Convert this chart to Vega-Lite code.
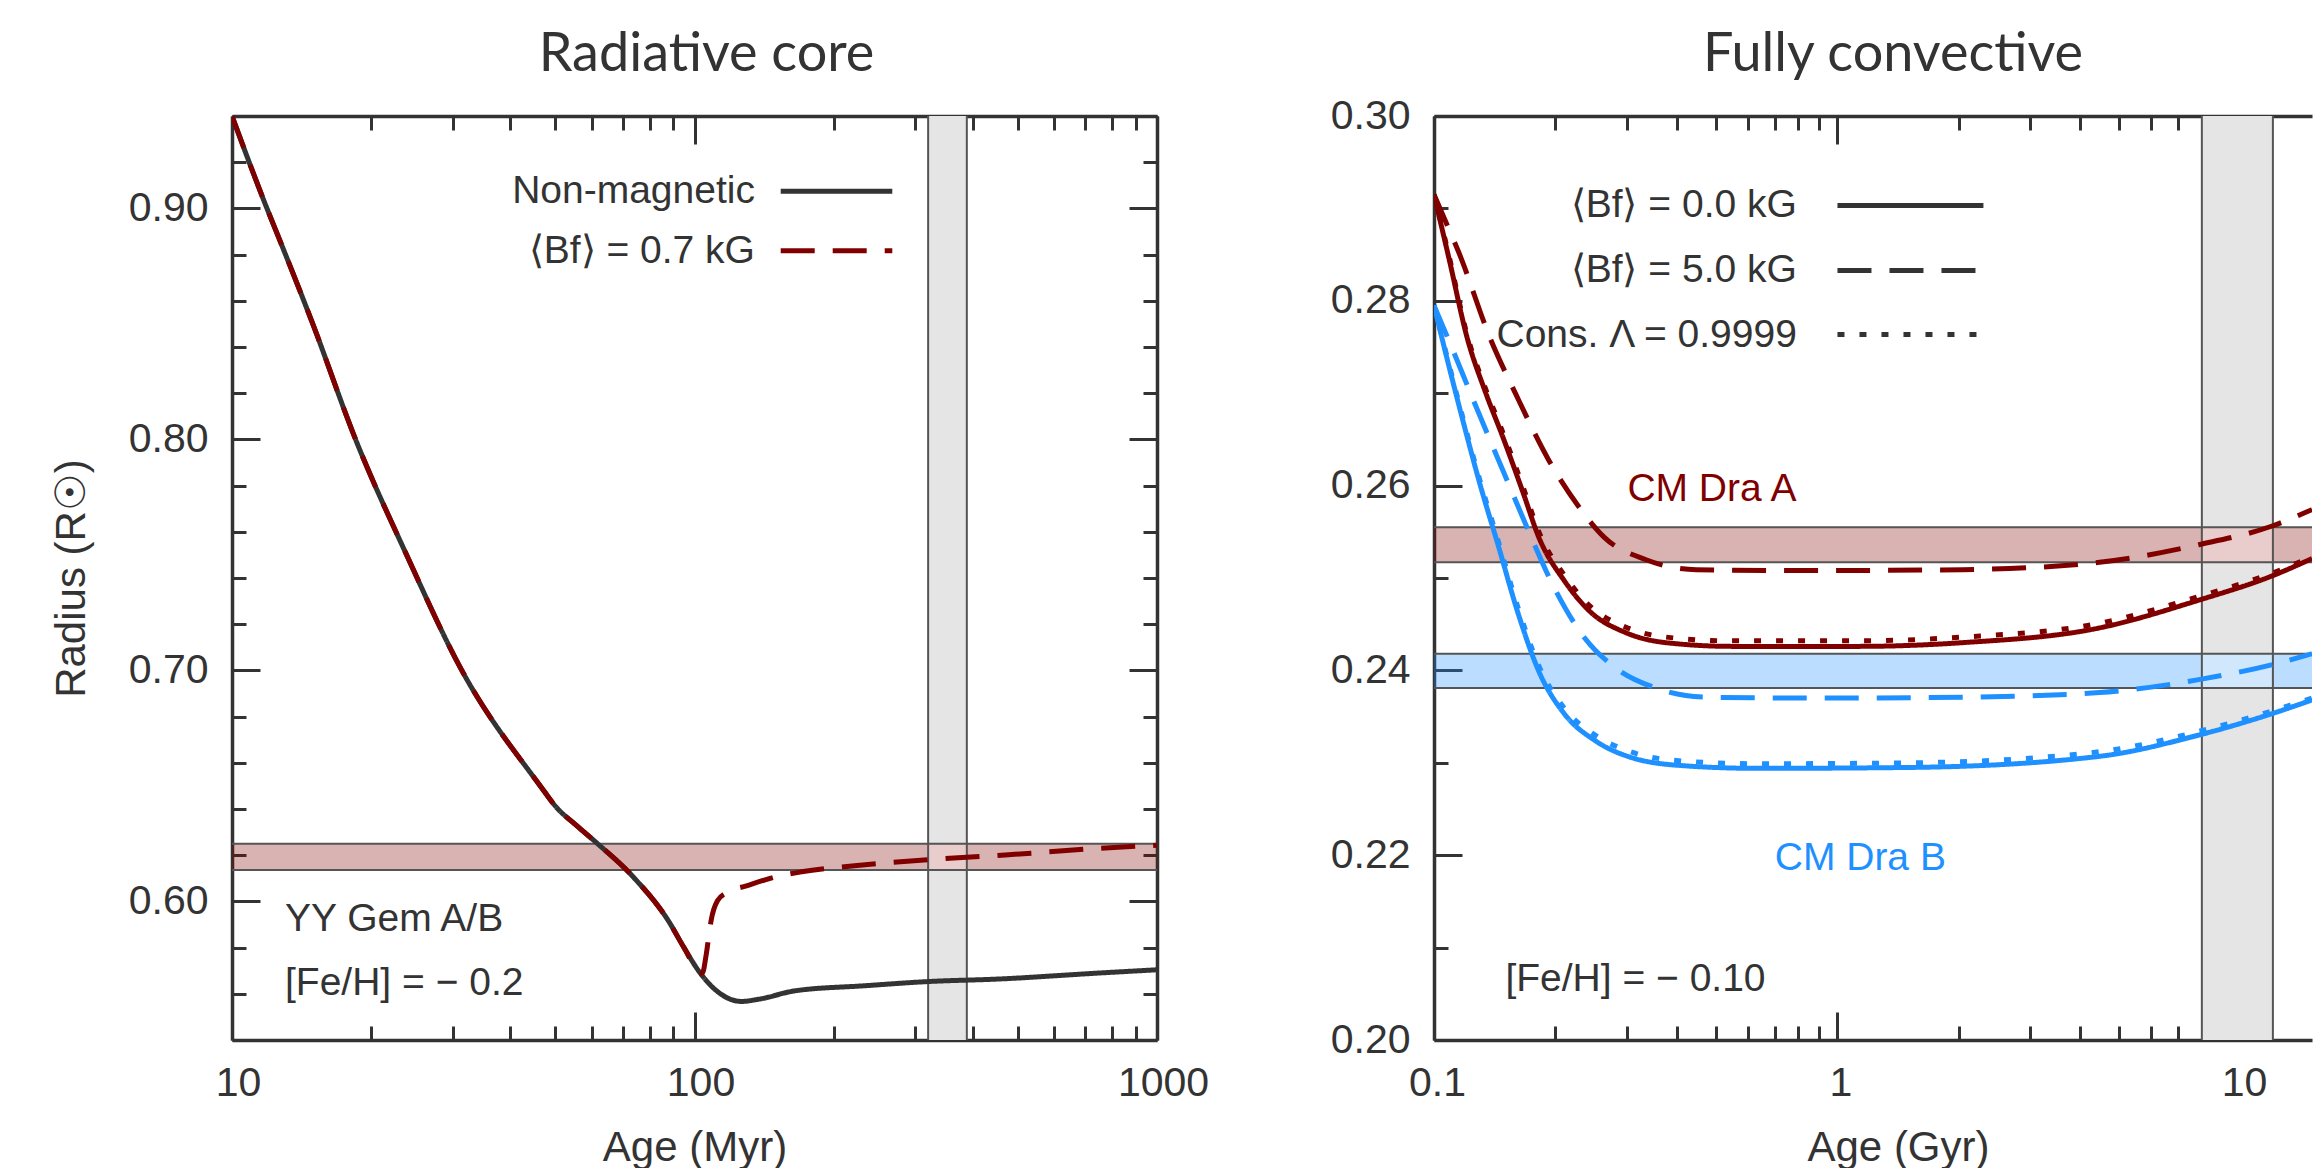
{
  "$schema": "https://vega.github.io/schema/vega-lite/v6.json",
  "padding": {"left": 50, "top": 28, "right": 0, "bottom": 0},
  "bounds": "flush",
  "spacing": 277,
  "config": {
    "view": {"stroke": null},
    "axis": {"grid": false, "domainColor": "#333333", "domainWidth": 3.5, "tickColor": "#333333", "tickWidth": 3, "labelFont": "Liberation Sans", "labelFontSize": 41, "labelColor": "#333333", "titleFont": "Liberation Sans", "titleFontSize": 42, "titleFontWeight": "normal", "titleColor": "#333333", "labelFlush": false, "labelOverlap": false},
    "text": {"font": "Liberation Sans", "fontSize": 39}
  },
  "datasets": {
    "leftCurves": [
      {"series": "nonmag", "style": "solid", "age": 10, "r": 0.940},
      {"series": "nonmag", "style": "solid", "age": 11.9, "r": 0.900},
      {"series": "nonmag", "style": "solid", "age": 12.64, "r": 0.887},
      {"series": "nonmag", "style": "solid", "age": 14.95, "r": 0.850},
      {"series": "nonmag", "style": "solid", "age": 18.5, "r": 0.800},
      {"series": "nonmag", "style": "solid", "age": 23.85, "r": 0.750},
      {"series": "nonmag", "style": "solid", "age": 31.4, "r": 0.700},
      {"series": "nonmag", "style": "solid", "age": 46.4, "r": 0.650},
      {"series": "nonmag", "style": "solid", "age": 50.2, "r": 0.6409},
      {"series": "nonmag", "style": "solid", "age": 55.7, "r": 0.6327},
      {"series": "nonmag", "style": "solid", "age": 61.3, "r": 0.6255},
      {"series": "nonmag", "style": "solid", "age": 73.7, "r": 0.6106},
      {"series": "nonmag", "style": "solid", "age": 87.8, "r": 0.5916},
      {"series": "nonmag", "style": "solid", "age": 94.9, "r": 0.5800},
      {"series": "nonmag", "style": "solid", "age": 102.7, "r": 0.5692},
      {"series": "nonmag", "style": "solid", "age": 114, "r": 0.5599},
      {"series": "nonmag", "style": "solid", "age": 126.3, "r": 0.5567},
      {"series": "nonmag", "style": "solid", "age": 138, "r": 0.5577},
      {"series": "nonmag", "style": "solid", "age": 165, "r": 0.5613},
      {"series": "nonmag", "style": "solid", "age": 234, "r": 0.5635},
      {"series": "nonmag", "style": "solid", "age": 320, "r": 0.5653},
      {"series": "nonmag", "style": "solid", "age": 455, "r": 0.5664},
      {"series": "nonmag", "style": "solid", "age": 750, "r": 0.5690},
      {"series": "nonmag", "style": "solid", "age": 1000, "r": 0.5704},
      {"series": "mag", "style": "dashed", "age": 10, "r": 0.940},
      {"series": "mag", "style": "dashed", "age": 11.9, "r": 0.900},
      {"series": "mag", "style": "dashed", "age": 12.64, "r": 0.887},
      {"series": "mag", "style": "dashed", "age": 14.95, "r": 0.850},
      {"series": "mag", "style": "dashed", "age": 18.5, "r": 0.800},
      {"series": "mag", "style": "dashed", "age": 23.85, "r": 0.750},
      {"series": "mag", "style": "dashed", "age": 31.4, "r": 0.700},
      {"series": "mag", "style": "dashed", "age": 46.4, "r": 0.650},
      {"series": "mag", "style": "dashed", "age": 50.2, "r": 0.6409},
      {"series": "mag", "style": "dashed", "age": 55.7, "r": 0.6327},
      {"series": "mag", "style": "dashed", "age": 61.3, "r": 0.6255},
      {"series": "mag", "style": "dashed", "age": 73.7, "r": 0.6106},
      {"series": "mag", "style": "dashed", "age": 87.8, "r": 0.5916},
      {"series": "mag", "style": "dashed", "age": 94.9, "r": 0.5800},
      {"series": "mag", "style": "dashed", "age": 102.7, "r": 0.5692},
      {"series": "mag", "style": "dashed", "age": 104.0, "r": 0.5690},
      {"series": "mag", "style": "dashed", "age": 106.0, "r": 0.5770},
      {"series": "mag", "style": "dashed", "age": 107.3, "r": 0.5844},
      {"series": "mag", "style": "dashed", "age": 108.6, "r": 0.5916},
      {"series": "mag", "style": "dashed", "age": 112.1, "r": 0.6003},
      {"series": "mag", "style": "dashed", "age": 117.3, "r": 0.6038},
      {"series": "mag", "style": "dashed", "age": 129.5, "r": 0.6067},
      {"series": "mag", "style": "dashed", "age": 153.2, "r": 0.6111},
      {"series": "mag", "style": "dashed", "age": 170.5, "r": 0.6128},
      {"series": "mag", "style": "dashed", "age": 221.7, "r": 0.6154},
      {"series": "mag", "style": "dashed", "age": 331.8, "r": 0.6183},
      {"series": "mag", "style": "dashed", "age": 470, "r": 0.6201},
      {"series": "mag", "style": "dashed", "age": 750, "r": 0.6230},
      {"series": "mag", "style": "dashed", "age": 1000, "r": 0.6243}
    ],
    "rightCurves": [
      {"star": "A", "style": "solid", "age": 0.1, "r": 0.2915},
      {"star": "A", "style": "solid", "age": 0.1089, "r": 0.2846},
      {"star": "A", "style": "solid", "age": 0.121, "r": 0.2759},
      {"star": "A", "style": "solid", "age": 0.1339, "r": 0.2702},
      {"star": "A", "style": "solid", "age": 0.1483, "r": 0.2652},
      {"star": "A", "style": "solid", "age": 0.1667, "r": 0.2591},
      {"star": "A", "style": "solid", "age": 0.1819, "r": 0.2544},
      {"star": "A", "style": "solid", "age": 0.2104, "r": 0.2497},
      {"star": "A", "style": "solid", "age": 0.2432, "r": 0.2464},
      {"star": "A", "style": "solid", "age": 0.2982, "r": 0.2441},
      {"star": "A", "style": "solid", "age": 0.3762, "r": 0.2430},
      {"star": "A", "style": "solid", "age": 0.5502, "r": 0.2426},
      {"star": "A", "style": "solid", "age": 1.13, "r": 0.2426},
      {"star": "A", "style": "solid", "age": 2.036, "r": 0.2430},
      {"star": "A", "style": "solid", "age": 4.46, "r": 0.2446},
      {"star": "A", "style": "solid", "age": 7.86, "r": 0.2476},
      {"star": "A", "style": "solid", "age": 11.9, "r": 0.2502},
      {"star": "A", "style": "solid", "age": 15.0, "r": 0.2521},
      {"star": "A", "style": "dotted", "age": 0.1, "r": 0.2915},
      {"star": "A", "style": "dotted", "age": 0.1089, "r": 0.2849},
      {"star": "A", "style": "dotted", "age": 0.121, "r": 0.2762},
      {"star": "A", "style": "dotted", "age": 0.1339, "r": 0.2706},
      {"star": "A", "style": "dotted", "age": 0.1483, "r": 0.2657},
      {"star": "A", "style": "dotted", "age": 0.1667, "r": 0.2597},
      {"star": "A", "style": "dotted", "age": 0.1819, "r": 0.2550},
      {"star": "A", "style": "dotted", "age": 0.2104, "r": 0.2503},
      {"star": "A", "style": "dotted", "age": 0.2432, "r": 0.2470},
      {"star": "A", "style": "dotted", "age": 0.2982, "r": 0.2447},
      {"star": "A", "style": "dotted", "age": 0.3762, "r": 0.2436},
      {"star": "A", "style": "dotted", "age": 0.5502, "r": 0.2432},
      {"star": "A", "style": "dotted", "age": 1.13, "r": 0.2432},
      {"star": "A", "style": "dotted", "age": 2.036, "r": 0.2436},
      {"star": "A", "style": "dotted", "age": 4.46, "r": 0.2451},
      {"star": "A", "style": "dotted", "age": 7.86, "r": 0.2480},
      {"star": "A", "style": "dotted", "age": 11.9, "r": 0.2505},
      {"star": "A", "style": "dotted", "age": 15.0, "r": 0.2523},
      {"star": "A", "style": "dashed", "age": 0.1, "r": 0.2915},
      {"star": "A", "style": "dashed", "age": 0.1068, "r": 0.2886},
      {"star": "A", "style": "dashed", "age": 0.1153, "r": 0.2852},
      {"star": "A", "style": "dashed", "age": 0.1379, "r": 0.2759},
      {"star": "A", "style": "dashed", "age": 0.1595, "r": 0.2699},
      {"star": "A", "style": "dashed", "age": 0.1928, "r": 0.2627},
      {"star": "A", "style": "dashed", "age": 0.2295, "r": 0.2576},
      {"star": "A", "style": "dashed", "age": 0.2643, "r": 0.2544},
      {"star": "A", "style": "dashed", "age": 0.3341, "r": 0.2520},
      {"star": "A", "style": "dashed", "age": 0.447, "r": 0.2509},
      {"star": "A", "style": "dashed", "age": 0.85, "r": 0.2508},
      {"star": "A", "style": "dashed", "age": 2.04, "r": 0.2509},
      {"star": "A", "style": "dashed", "age": 4.46, "r": 0.2517},
      {"star": "A", "style": "dashed", "age": 7.86, "r": 0.2536},
      {"star": "A", "style": "dashed", "age": 11.9, "r": 0.2556},
      {"star": "A", "style": "dashed", "age": 15.0, "r": 0.2574},
      {"star": "B", "style": "solid", "age": 0.1, "r": 0.2795},
      {"star": "B", "style": "solid", "age": 0.1061, "r": 0.2749},
      {"star": "B", "style": "solid", "age": 0.1175, "r": 0.2673},
      {"star": "B", "style": "solid", "age": 0.1301, "r": 0.2601},
      {"star": "B", "style": "solid", "age": 0.1441, "r": 0.2536},
      {"star": "B", "style": "solid", "age": 0.1618, "r": 0.2461},
      {"star": "B", "style": "solid", "age": 0.1819, "r": 0.2399},
      {"star": "B", "style": "solid", "age": 0.2104, "r": 0.2353},
      {"star": "B", "style": "solid", "age": 0.2508, "r": 0.2324},
      {"star": "B", "style": "solid", "age": 0.3069, "r": 0.2306},
      {"star": "B", "style": "solid", "age": 0.4107, "r": 0.2297},
      {"star": "B", "style": "solid", "age": 0.6355, "r": 0.2294},
      {"star": "B", "style": "solid", "age": 1.525, "r": 0.2295},
      {"star": "B", "style": "solid", "age": 4.46, "r": 0.2307},
      {"star": "B", "style": "solid", "age": 7.86, "r": 0.2330},
      {"star": "B", "style": "solid", "age": 11.9, "r": 0.2353},
      {"star": "B", "style": "solid", "age": 15.0, "r": 0.2368},
      {"star": "B", "style": "dotted", "age": 0.1, "r": 0.2795},
      {"star": "B", "style": "dotted", "age": 0.1061, "r": 0.2751},
      {"star": "B", "style": "dotted", "age": 0.1175, "r": 0.2676},
      {"star": "B", "style": "dotted", "age": 0.1301, "r": 0.2605},
      {"star": "B", "style": "dotted", "age": 0.1441, "r": 0.2541},
      {"star": "B", "style": "dotted", "age": 0.1618, "r": 0.2467},
      {"star": "B", "style": "dotted", "age": 0.1819, "r": 0.2405},
      {"star": "B", "style": "dotted", "age": 0.2104, "r": 0.2359},
      {"star": "B", "style": "dotted", "age": 0.2508, "r": 0.2330},
      {"star": "B", "style": "dotted", "age": 0.3069, "r": 0.2312},
      {"star": "B", "style": "dotted", "age": 0.4107, "r": 0.2302},
      {"star": "B", "style": "dotted", "age": 0.6355, "r": 0.2299},
      {"star": "B", "style": "dotted", "age": 1.525, "r": 0.2300},
      {"star": "B", "style": "dotted", "age": 4.46, "r": 0.2312},
      {"star": "B", "style": "dotted", "age": 7.86, "r": 0.2334},
      {"star": "B", "style": "dotted", "age": 11.9, "r": 0.2356},
      {"star": "B", "style": "dotted", "age": 15.0, "r": 0.2370},
      {"star": "B", "style": "dashed", "age": 0.1, "r": 0.2795},
      {"star": "B", "style": "dashed", "age": 0.1108, "r": 0.2749},
      {"star": "B", "style": "dashed", "age": 0.1264, "r": 0.2688},
      {"star": "B", "style": "dashed", "age": 0.1483, "r": 0.2616},
      {"star": "B", "style": "dashed", "age": 0.1715, "r": 0.2551},
      {"star": "B", "style": "dashed", "age": 0.1983, "r": 0.2490},
      {"star": "B", "style": "dashed", "age": 0.2363, "r": 0.2435},
      {"star": "B", "style": "dashed", "age": 0.2813, "r": 0.2403},
      {"star": "B", "style": "dashed", "age": 0.3542, "r": 0.2381},
      {"star": "B", "style": "dashed", "age": 0.4747, "r": 0.2371},
      {"star": "B", "style": "dashed", "age": 0.85, "r": 0.2370},
      {"star": "B", "style": "dashed", "age": 2.04, "r": 0.2371},
      {"star": "B", "style": "dashed", "age": 4.46, "r": 0.2376},
      {"star": "B", "style": "dashed", "age": 7.86, "r": 0.2390},
      {"star": "B", "style": "dashed", "age": 11.9, "r": 0.2406},
      {"star": "B", "style": "dashed", "age": 15.0, "r": 0.2418}
    ],
    "leftHBand": [{"lo": 0.6136, "hi": 0.6250}],
    "leftVBand": [{"lo": 320, "hi": 388}],
    "leftOverlap": [{"key": "Yov", "xlo": 320, "xhi": 388, "ylo": 0.6136, "yhi": 0.6250}],
    "rightHBands": [{"star": "A", "lo": 0.2517, "hi": 0.2555}, {"star": "B", "lo": 0.2381, "hi": 0.2418}],
    "rightVBand": [{"lo": 8, "hi": 12}],
    "rightOverlap": [
      {"key": "Aov", "xlo": 8, "xhi": 12, "ylo": 0.2517, "yhi": 0.2555},
      {"key": "Bov", "xlo": 8, "xhi": 12, "ylo": 0.2381, "yhi": 0.2418}
    ],
    "leftKey": [
      {"series": "nonmag", "style": "solid", "x1": 153.6, "x2": 267.7, "y": 0.9074},
      {"series": "mag", "style": "dashed", "x1": 153.6, "x2": 267.7, "y": 0.8817}
    ],
    "leftLabels": [
      {"kind": "key", "key": "legend", "label": "Non-magnetic", "x": 135.1, "y": 0.9074},
      {"kind": "key", "key": "legend", "label": "⟨Bf⟩ = 0.7 kG", "x": 135.1, "y": 0.8817},
      {"kind": "note", "key": "legend", "label": "YY Gem A/B", "x": 13.02, "y": 0.5925},
      {"kind": "note", "key": "legend", "label": "[Fe/H] = − 0.2", "x": 13.02, "y": 0.5648}
    ],
    "rightKey": [
      {"series": "legend", "style": "solid", "x1": 1.0, "x2": 2.3, "y": 0.29032},
      {"series": "legend", "style": "dashed", "x1": 1.0, "x2": 2.3, "y": 0.28329},
      {"series": "legend", "style": "dotted", "x1": 1.0, "x2": 2.3, "y": 0.27635}
    ],
    "rightLabels": [
      {"kind": "key", "key": "legend", "label": "⟨Bf⟩ = 0.0 kG", "x": 0.793, "y": 0.29032},
      {"kind": "key", "key": "legend", "label": "⟨Bf⟩ = 5.0 kG", "x": 0.793, "y": 0.28329},
      {"kind": "key", "key": "legend", "label": "Cons. Λ = 0.9999", "x": 0.793, "y": 0.27635},
      {"kind": "note", "key": "A", "label": "CM Dra A", "x": 0.3015, "y": 0.2596},
      {"kind": "note", "key": "B", "label": "CM Dra B", "x": 0.699, "y": 0.2197},
      {"kind": "note", "key": "legend", "label": "[Fe/H] = − 0.10", "x": 0.1503, "y": 0.2066}
    ]
  },
  "hconcat": [
    {
      "width": 925,
      "height": 924,
      "title": {"text": "Radiative core", "font": "Lato", "fontSize": 54, "fontWeight": "normal", "color": "#333333", "offset": 13, "dx": 12},
      "resolve": {"axis": {"x": "independent", "y": "independent"}},
      "layer": [
        {
          "data": {"name": "leftHBand"},
          "mark": {"type": "rect", "fill": "#800000", "opacity": 0.3},
          "encoding": {
            "y": {"field": "lo", "type": "quantitative", "scale": {"domain": [0.54, 0.94], "nice": false, "zero": false}, "axis": null},
            "y2": {"field": "hi"}
          }
        },
        {
          "data": {"name": "leftVBand"},
          "mark": {"type": "rect", "fill": "#e5e5e5"},
          "encoding": {
            "x": {"field": "lo", "type": "quantitative", "scale": {"type": "log", "domain": [10, 1000], "nice": false}, "axis": null},
            "x2": {"field": "hi"}
          }
        },
        {
          "data": {"name": "leftOverlap"},
          "mark": {"type": "rect"},
          "encoding": {
            "x": {"field": "xlo", "type": "quantitative", "axis": null},
            "x2": {"field": "xhi"},
            "y": {"field": "ylo", "type": "quantitative", "axis": null},
            "y2": {"field": "yhi"},
            "fill": {"field": "key", "type": "nominal", "scale": {"domain": ["Yov", "Aov", "Bov"], "range": ["#e9cccc", "#e9cccc", "#d1e7fc"]}, "legend": null}
          }
        },
        {"data": {"name": "leftHBand"}, "mark": {"type": "rule", "stroke": "#555555", "strokeWidth": 2}, "encoding": {"y": {"field": "lo", "type": "quantitative", "axis": null}}},
        {"data": {"name": "leftHBand"}, "mark": {"type": "rule", "stroke": "#555555", "strokeWidth": 2}, "encoding": {"y": {"field": "hi", "type": "quantitative", "axis": null}}},
        {"data": {"name": "leftVBand"}, "mark": {"type": "rule", "stroke": "#555555", "strokeWidth": 2}, "encoding": {"x": {"field": "lo", "type": "quantitative", "axis": null}}},
        {"data": {"name": "leftVBand"}, "mark": {"type": "rule", "stroke": "#555555", "strokeWidth": 2}, "encoding": {"x": {"field": "hi", "type": "quantitative", "axis": null}}},
        {
          "data": {"name": "leftCurves"},
          "transform": [{"filter": "datum.series == 'nonmag'"}],
          "mark": {"type": "line", "strokeWidth": 5, "interpolate": "monotone", "clip": true},
          "encoding": {
            "x": {"field": "age", "type": "quantitative", "axis": {"orient": "bottom", "values": [10,20,30,40,50,60,70,80,90,100,200,300,400,500,600,700,800,900,1000], "title": "Age (Myr)", "labelExpr": "indexof([10,100,1000], datum.value) >= 0 ? format(datum.value, 'd') : ''", "tickSize": {"condition": {"test": "indexof([10,100,1000], datum.value) >= 0", "value": -28}, "value": -14}, "labelPadding": 51, "labelOffset": 6, "labelBaseline": "top", "titlePadding": 10}},
            "y": {"field": "r", "type": "quantitative", "axis": {"orient": "left", "values": [0.54,0.56,0.58,0.6,0.62,0.64,0.66,0.68,0.7,0.72,0.74,0.76,0.78,0.8,0.82,0.84,0.86,0.88,0.9,0.92,0.94], "title": "Radius (R☉)", "labelExpr": "abs(datum.value*10-round(datum.value*10)) < 1e-6 ? format(datum.value, '.2f') : ''", "tickSize": {"condition": {"test": "abs(datum.value*10-round(datum.value*10)) < 1e-6", "value": -28}, "value": -14}, "labelPadding": 52, "titlePadding": 35}},
            "color": {"field": "series", "type": "nominal", "scale": {"domain": ["nonmag", "mag", "A", "B", "legend"], "range": ["#333333", "#800000", "#800000", "#1e90ff", "#333333"]}, "legend": null},
            "strokeDash": {"field": "style", "type": "nominal", "scale": {"domain": ["solid", "dashed", "dotted"], "range": [[1, 0], [34, 18], [7, 15]]}, "legend": null}
          }
        },
        {
          "data": {"name": "leftCurves"},
          "transform": [{"filter": "datum.series == 'mag'"}],
          "mark": {"type": "line", "strokeWidth": 5, "interpolate": "monotone", "clip": true},
          "encoding": {
            "x": {"field": "age", "type": "quantitative", "axis": {"orient": "top", "values": [10,20,30,40,50,60,70,80,90,100,200,300,400,500,600,700,800,900,1000], "title": null, "labels": false, "tickSize": {"condition": {"test": "indexof([10,100,1000], datum.value) >= 0", "value": -28}, "value": -14}}},
            "y": {"field": "r", "type": "quantitative", "axis": {"orient": "right", "values": [0.54,0.56,0.58,0.6,0.62,0.64,0.66,0.68,0.7,0.72,0.74,0.76,0.78,0.8,0.82,0.84,0.86,0.88,0.9,0.92,0.94], "title": null, "labels": false, "tickSize": {"condition": {"test": "abs(datum.value*10-round(datum.value*10)) < 1e-6", "value": -28}, "value": -14}}},
            "color": {"field": "series", "type": "nominal", "legend": null},
            "strokeDash": {"field": "style", "type": "nominal", "legend": null}
          }
        },
        {
          "data": {"name": "leftKey"},
          "mark": {"type": "rule", "strokeWidth": 5},
          "encoding": {
            "x": {"field": "x1", "type": "quantitative", "axis": null},
            "x2": {"field": "x2"},
            "y": {"field": "y", "type": "quantitative", "axis": null},
            "color": {"field": "series", "type": "nominal", "legend": null},
            "strokeDash": {"field": "style", "type": "nominal", "legend": null}
          }
        },
        {
          "data": {"name": "leftLabels"},
          "transform": [{"filter": "datum.kind == 'key'"}],
          "mark": {"type": "text", "align": "right", "baseline": "middle"},
          "encoding": {
            "x": {"field": "x", "type": "quantitative", "axis": null},
            "y": {"field": "y", "type": "quantitative", "axis": null},
            "text": {"field": "label"},
            "color": {"field": "key", "type": "nominal", "legend": null}
          }
        },
        {
          "data": {"name": "leftLabels"},
          "transform": [{"filter": "datum.kind == 'note'"}],
          "mark": {"type": "text", "align": "left", "baseline": "middle"},
          "encoding": {
            "x": {"field": "x", "type": "quantitative", "axis": null},
            "y": {"field": "y", "type": "quantitative", "axis": null},
            "text": {"field": "label"},
            "color": {"field": "key", "type": "nominal", "legend": null}
          }
        }
      ]
    },
    {
      "width": 878,
      "height": 924,
      "title": {"text": "Fully convective", "font": "Lato", "fontSize": 54, "fontWeight": "normal", "color": "#333333", "offset": 13, "dx": 20},
      "resolve": {"axis": {"x": "independent", "y": "independent"}},
      "layer": [
        {
          "data": {"name": "rightHBands"},
          "mark": {"type": "rect", "opacity": 0.3},
          "encoding": {
            "y": {"field": "lo", "type": "quantitative", "scale": {"domain": [0.2, 0.3], "nice": false, "zero": false}, "axis": null},
            "y2": {"field": "hi"},
            "color": {"field": "star", "type": "nominal", "scale": {"domain": ["nonmag", "mag", "A", "B", "legend"], "range": ["#333333", "#800000", "#800000", "#1e90ff", "#333333"]}, "legend": null}
          }
        },
        {
          "data": {"name": "rightVBand"},
          "mark": {"type": "rect", "fill": "#e5e5e5"},
          "encoding": {
            "x": {"field": "lo", "type": "quantitative", "scale": {"type": "log", "domain": [0.1, 15], "nice": false}, "axis": null},
            "x2": {"field": "hi"}
          }
        },
        {
          "data": {"name": "rightOverlap"},
          "mark": {"type": "rect"},
          "encoding": {
            "x": {"field": "xlo", "type": "quantitative", "axis": null},
            "x2": {"field": "xhi"},
            "y": {"field": "ylo", "type": "quantitative", "axis": null},
            "y2": {"field": "yhi"},
            "fill": {"field": "key", "type": "nominal", "scale": {"domain": ["Yov", "Aov", "Bov"], "range": ["#e9cccc", "#e9cccc", "#d1e7fc"]}, "legend": null}
          }
        },
        {"data": {"name": "rightHBands"}, "mark": {"type": "rule", "stroke": "#555555", "strokeWidth": 2}, "encoding": {"y": {"field": "lo", "type": "quantitative", "axis": null}}},
        {"data": {"name": "rightHBands"}, "mark": {"type": "rule", "stroke": "#555555", "strokeWidth": 2}, "encoding": {"y": {"field": "hi", "type": "quantitative", "axis": null}}},
        {"data": {"name": "rightVBand"}, "mark": {"type": "rule", "stroke": "#555555", "strokeWidth": 2}, "encoding": {"x": {"field": "lo", "type": "quantitative", "axis": null}}},
        {"data": {"name": "rightVBand"}, "mark": {"type": "rule", "stroke": "#555555", "strokeWidth": 2}, "encoding": {"x": {"field": "hi", "type": "quantitative", "axis": null}}},
        {
          "data": {"name": "rightCurves"},
          "transform": [{"filter": "datum.style == 'solid'"}],
          "mark": {"type": "line", "strokeWidth": 5, "interpolate": "monotone", "clip": true},
          "encoding": {
            "x": {"field": "age", "type": "quantitative", "axis": {"orient": "bottom", "values": [0.1,0.2,0.3,0.4,0.5,0.6,0.7,0.8,0.9,1,2,3,4,5,6,7,8,9,10], "title": "Age (Gyr)", "titleX": 464, "labelExpr": "datum.value == 0.1 ? '0.1' : datum.value == 1 ? '1' : datum.value == 10 ? '10' : ''", "tickSize": {"condition": {"test": "indexof([0.1,1,10], datum.value) >= 0", "value": -28}, "value": -14}, "labelPadding": 51, "labelOffset": 3, "labelBaseline": "top", "titlePadding": 10}},
            "y": {"field": "r", "type": "quantitative", "axis": {"orient": "left", "values": [0.2,0.21,0.22,0.23,0.24,0.25,0.26,0.27,0.28,0.29,0.3], "title": null, "labelExpr": "abs(datum.value*50-round(datum.value*50)) < 1e-6 ? format(datum.value, '.2f') : ''", "tickSize": {"condition": {"test": "abs(datum.value*50-round(datum.value*50)) < 1e-6", "value": -28}, "value": -14}, "labelPadding": 52}},
            "color": {"field": "star", "type": "nominal", "legend": null},
            "strokeDash": {"field": "style", "type": "nominal", "scale": {"domain": ["solid", "dashed", "dotted"], "range": [[1, 0], [34, 18], [7, 15]]}, "legend": null}
          }
        },
        {
          "data": {"name": "rightCurves"},
          "transform": [{"filter": "datum.style == 'dashed'"}],
          "mark": {"type": "line", "strokeWidth": 5, "interpolate": "monotone", "clip": true},
          "encoding": {
            "x": {"field": "age", "type": "quantitative", "axis": {"orient": "top", "values": [0.1,0.2,0.3,0.4,0.5,0.6,0.7,0.8,0.9,1,2,3,4,5,6,7,8,9,10], "title": null, "labels": false, "tickSize": {"condition": {"test": "indexof([0.1,1,10], datum.value) >= 0", "value": -28}, "value": -14}}},
            "y": {"field": "r", "type": "quantitative", "axis": null},
            "color": {"field": "star", "type": "nominal", "legend": null},
            "strokeDash": {"field": "style", "type": "nominal", "legend": null}
          }
        },
        {
          "data": {"name": "rightCurves"},
          "transform": [{"filter": "datum.style == 'dotted'"}],
          "mark": {"type": "line", "strokeWidth": 5, "interpolate": "monotone", "clip": true},
          "encoding": {
            "x": {"field": "age", "type": "quantitative", "axis": null},
            "y": {"field": "r", "type": "quantitative", "axis": null},
            "color": {"field": "star", "type": "nominal", "legend": null},
            "strokeDash": {"field": "style", "type": "nominal", "legend": null}
          }
        },
        {
          "data": {"name": "rightKey"},
          "mark": {"type": "rule", "strokeWidth": 5},
          "encoding": {
            "x": {"field": "x1", "type": "quantitative", "axis": null},
            "x2": {"field": "x2"},
            "y": {"field": "y", "type": "quantitative", "axis": null},
            "color": {"field": "series", "type": "nominal", "legend": null},
            "strokeDash": {"field": "style", "type": "nominal", "legend": null}
          }
        },
        {
          "data": {"name": "rightLabels"},
          "transform": [{"filter": "datum.kind == 'key'"}],
          "mark": {"type": "text", "align": "right", "baseline": "middle"},
          "encoding": {
            "x": {"field": "x", "type": "quantitative", "axis": null},
            "y": {"field": "y", "type": "quantitative", "axis": null},
            "text": {"field": "label"},
            "color": {"field": "key", "type": "nominal", "legend": null}
          }
        },
        {
          "data": {"name": "rightLabels"},
          "transform": [{"filter": "datum.kind == 'note'"}],
          "mark": {"type": "text", "align": "left", "baseline": "middle"},
          "encoding": {
            "x": {"field": "x", "type": "quantitative", "axis": null},
            "y": {"field": "y", "type": "quantitative", "axis": null},
            "text": {"field": "label"},
            "color": {"field": "key", "type": "nominal", "legend": null}
          }
        }
      ]
    }
  ]
}
